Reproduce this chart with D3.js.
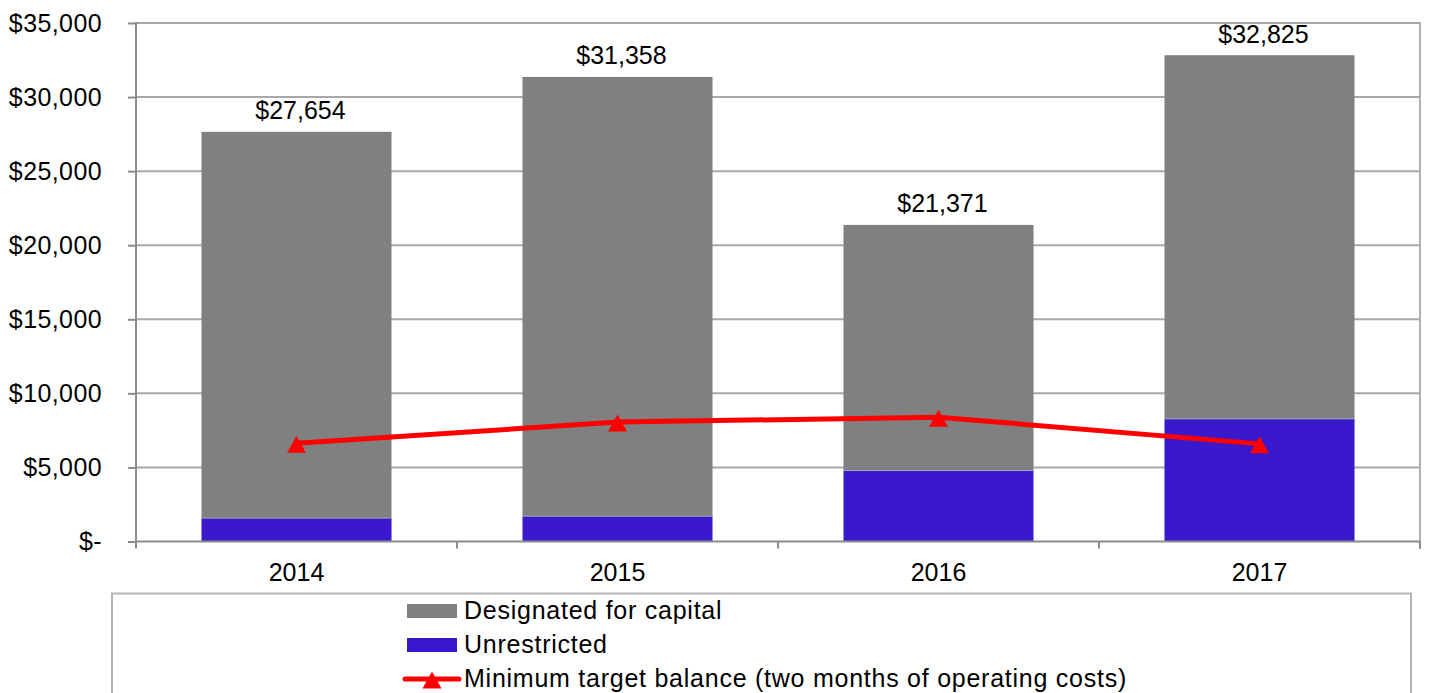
<!DOCTYPE html>
<html><head><meta charset="utf-8">
<script src="https://cdn.jsdelivr.net/npm/d3@7"></script>
<style>
html,body{margin:0;padding:0;background:#fff;}
svg{display:block;font-family:"Liberation Sans",Arial,sans-serif;}
</style></head>
<body>
<svg id="chart" width="1430" height="693"></svg>
<script>
const years = ["2014", "2015", "2016", "2017"];
const totals = [27654, 31358, 21371, 32825];
const unrestricted = [1580, 1710, 4790, 8280];
const designated = [26074, 29648, 16581, 24545];
const minimumTarget = [6640, 8060, 8390, 6590];
const yTicks = [0, 5000, 10000, 15000, 20000, 25000, 30000, 35000];
const legendLabels = ["Designated for capital", "Unrestricted", "Minimum target balance (two months of operating costs)"];

const colors = { designated: "#808080", unrestricted: "#3a18cc", line: "#ff0000" };
const svg = d3.select("#chart");
const plotL = 136, plotR = 1420, plotT = 23, plotB = 541.5;

const x = d3.scaleBand().domain(years).range([plotL, plotR]).paddingInner(0.408).paddingOuter(0.204);
const y = d3.scaleLinear().domain([0, 35000]).range([plotB, plotT]);

const fmt = v => v === 0 ? "$-" : "$" + d3.format(",")(v);

// gridlines
svg.append("g").selectAll("line").data(yTicks.filter(d => d > 0)).join("line")
  .attr("x1", plotL).attr("x2", plotR).attr("y1", d => y(d)).attr("y2", d => y(d))
  .attr("stroke", "#a8a8a8").attr("stroke-width", 2);

// right border
svg.append("line").attr("x1", plotR).attr("x2", plotR).attr("y1", plotT - 1).attr("y2", plotB + 7)
  .attr("stroke", "#b0b0b0").attr("stroke-width", 2);

// stacked bars
const stackData = years.map((yr, i) => ({ year: yr, unrestricted: unrestricted[i], designated: designated[i] }));
const series = d3.stack().keys(["unrestricted", "designated"])(stackData);
svg.append("g").selectAll("g").data(series).join("g")
  .attr("fill", d => colors[d.key])
  .selectAll("rect").data(d => d).join("rect")
  .attr("x", d => x(d.data.year)).attr("width", x.bandwidth())
  .attr("y", d => y(d[1])).attr("height", d => y(d[0]) - y(d[1]));

// thin boundary between segments
svg.append("g").selectAll("line").data(years).join("line")
  .attr("x1", d => x(d)).attr("x2", d => x(d) + x.bandwidth())
  .attr("y1", (d, i) => y(unrestricted[i])).attr("y2", (d, i) => y(unrestricted[i]))
  .attr("stroke", "#a0a0b8").attr("stroke-width", 1);

// y axis
const yAxis = d3.axisLeft(y).tickValues(yTicks).tickFormat(fmt).tickSize(8).tickPadding(26);
const gy = svg.append("g").attr("transform", `translate(${plotL},0)`).call(yAxis);
gy.select(".domain").remove();
gy.selectAll(".tick line").attr("stroke", "#8c8c8c").attr("stroke-width", 2);
gy.selectAll(".tick text").attr("font-size", 25).attr("fill", "#000")
  .attr("font-family", "'Liberation Sans', Arial, sans-serif").attr("dy", "0.33em")
  .attr("letter-spacing", "0.4px");
svg.append("line").attr("x1", plotL).attr("x2", plotL).attr("y1", plotT - 1).attr("y2", plotB + 7)
  .attr("stroke", "#8c8c8c").attr("stroke-width", 2);

// x axis
const xAxis = d3.axisBottom(x).tickSize(0).tickPadding(22);
const gx = svg.append("g").attr("transform", `translate(0,${plotB})`).call(xAxis);
gx.select(".domain").remove();
gx.selectAll(".tick text").attr("font-size", 25).attr("fill", "#000")
  .attr("font-family", "'Liberation Sans', Arial, sans-serif");
svg.append("line").attr("x1", plotL).attr("x2", plotR).attr("y1", plotB).attr("y2", plotB)
  .attr("stroke", "#8c8c8c").attr("stroke-width", 2);
svg.append("g").selectAll("line").data(years.map((d, i) => plotL + x.step() * (i + 1))).join("line")
  .attr("x1", d => d).attr("x2", d => d).attr("y1", plotB).attr("y2", plotB + 7)
  .attr("stroke", "#8c8c8c").attr("stroke-width", 2);

// line
const cx = d => x(d) + x.bandwidth() / 2;
const lineGen = d3.line().x((d, i) => cx(years[i])).y(d => y(d));
svg.append("path").datum(minimumTarget).attr("d", lineGen)
  .attr("fill", "none").attr("stroke", colors.line).attr("stroke-width", 5).attr("stroke-linejoin", "round");
const tri = "M0,-8.5L9.5,8.5L-9.5,8.5Z";
svg.append("g").selectAll("path").data(minimumTarget).join("path")
  .attr("d", tri).attr("fill", colors.line)
  .attr("transform", (d, i) => `translate(${cx(years[i])},${y(d) + 1})`);

// total labels
svg.append("g").selectAll("text").data(totals).join("text")
  .attr("x", (d, i) => cx(years[i]) + 4).attr("y", d => y(d) - 12.5)
  .attr("text-anchor", "middle").attr("font-size", 25).attr("fill", "#000")
  .text(d => fmt(d));

// legend
svg.append("rect").attr("x", 112).attr("y", 593.5).attr("width", 1299).attr("height", 120)
  .attr("fill", "#fff").attr("stroke", "#b4b4b4").attr("stroke-width", 2);
const lg = svg.append("g");
const ly = [611, 645, 679];
lg.append("rect").attr("x", 407).attr("y", 604).attr("width", 50).attr("height", 14).attr("fill", colors.designated);
lg.append("rect").attr("x", 407).attr("y", 638).attr("width", 50).attr("height", 14).attr("fill", colors.unrestricted);
lg.append("line").attr("x1", 405).attr("x2", 459).attr("y1", 679).attr("y2", 679)
  .attr("stroke", colors.line).attr("stroke-width", 5).attr("stroke-linecap", "round");
lg.append("path").attr("d", tri).attr("fill", colors.line).attr("transform", "translate(432,680)");
lg.selectAll("text").data(legendLabels).join("text")
  .attr("x", 464).attr("y", (d, i) => ly[i] + 8)
  .attr("font-size", 25).attr("letter-spacing", "0.75px").attr("fill", "#000").text(d => d);
</script>
</body></html>
